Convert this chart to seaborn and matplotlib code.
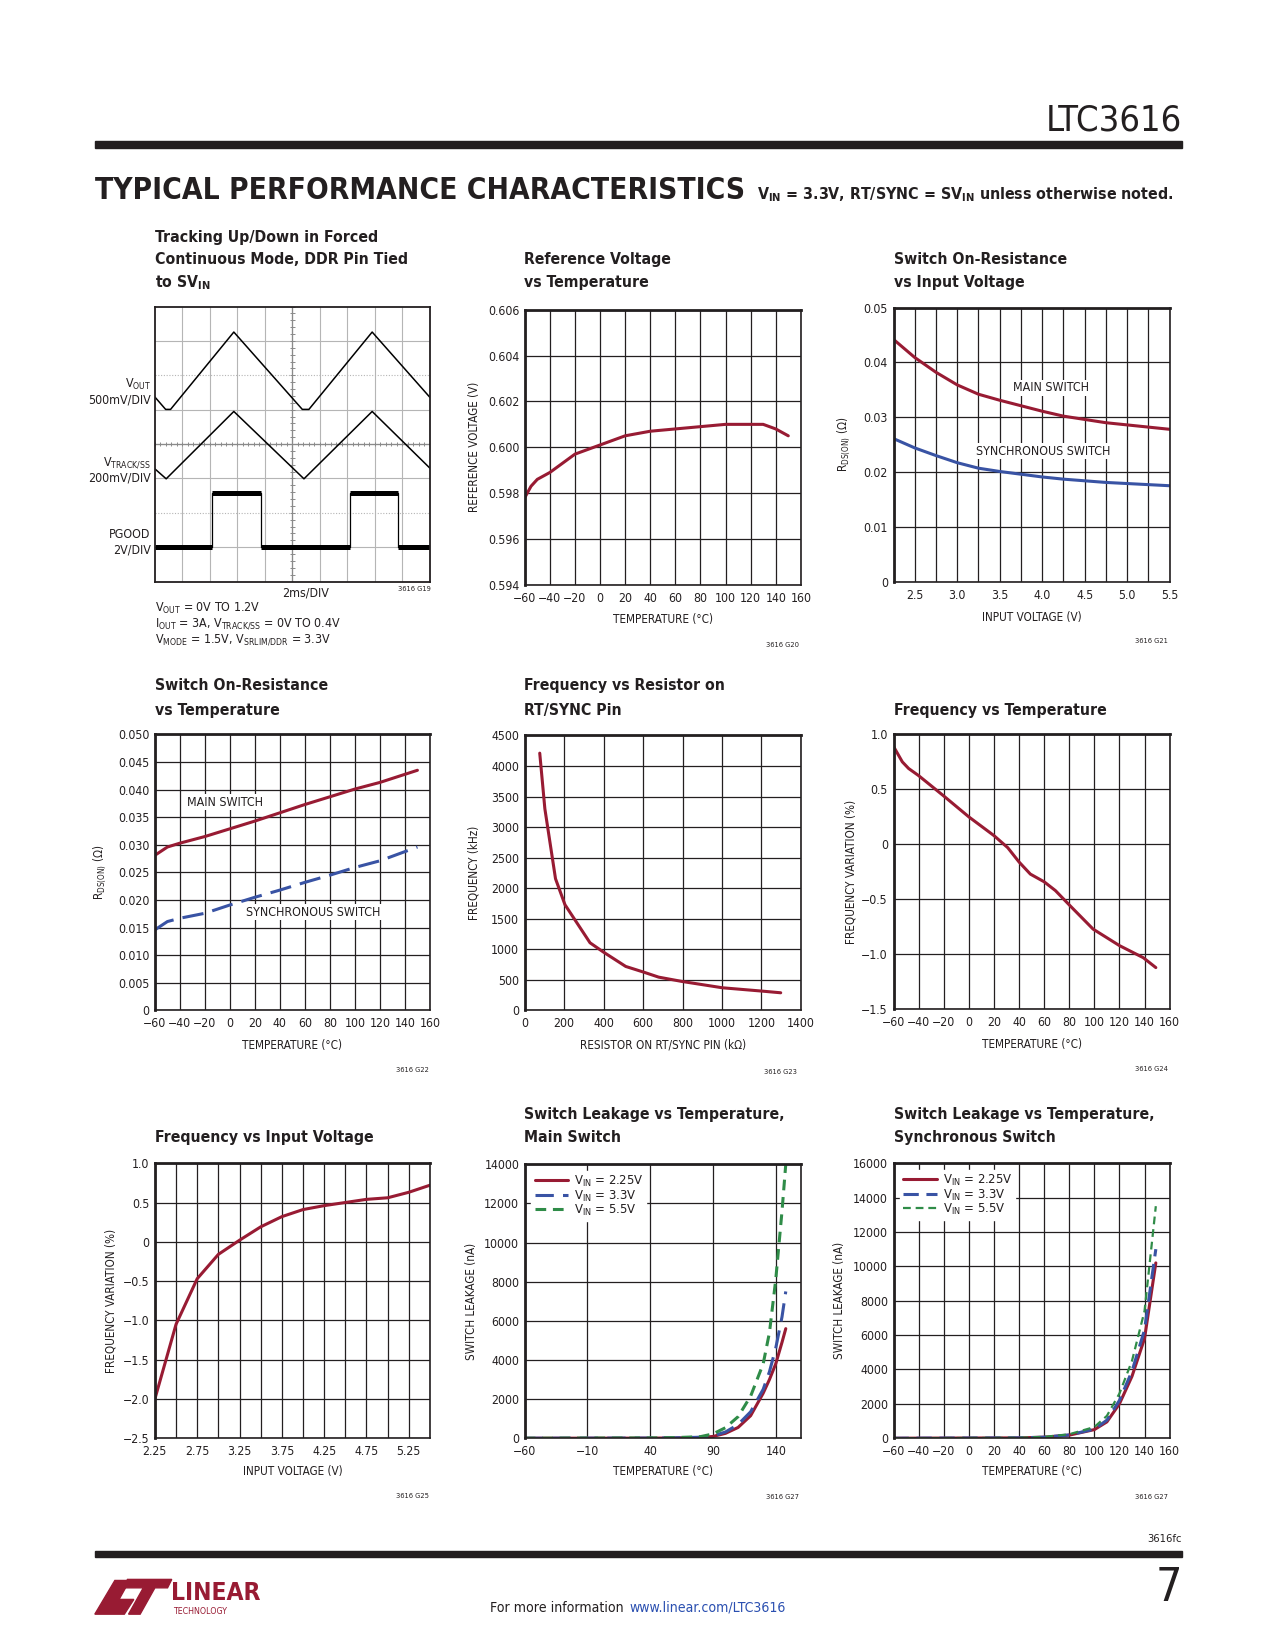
import numpy as np
import pandas as pd
import matplotlib
matplotlib.use("Agg")
import matplotlib.pyplot as plt
import seaborn as sns
from matplotlib import font_manager as fm
from matplotlib.patches import Rectangle, Polygon

# ---- data ----
# scope shot, in divisions (10 x 8)
vout_t = [0, 0.39, 0.57, 2.87, 5.36, 5.6, 7.9, 10]
vout_v = [5.37, 5.01, 5.01, 7.26, 5.01, 5.01, 7.26, 5.36]
track_t = [0, 0.41, 2.87, 5.42, 7.9, 10]
track_v = [3.28, 2.99, 4.95, 2.99, 4.95, 3.30]
pgood_t = [0, 2.08, 2.08, 3.84, 3.84, 7.09, 7.09, 8.85, 8.85, 10]
pgood_v = [1.0, 1.0, 2.58, 2.58, 1.0, 1.0, 2.58, 2.58, 1.0, 1.0]

# reference voltage vs temperature
ref_temp = [-60, -55, -50, -40, -30, -20, -10, 0, 10, 20, 30, 40, 60, 80, 100, 120, 130, 140, 150]
ref_volt = [0.5978, 0.5983, 0.5986, 0.5989, 0.5993, 0.5997, 0.5999, 0.6001, 0.6003, 0.6005, 0.6006,
            0.6007, 0.6008, 0.6009, 0.6010, 0.6010, 0.6010, 0.6008, 0.6005]

# switch on-resistance vs input voltage
rvin_v = [2.25, 2.5, 2.75, 3.0, 3.25, 3.5, 3.75, 4.0, 4.25, 4.5, 4.75, 5.0, 5.25, 5.5]
rvin_main = [0.0442, 0.0409, 0.0382, 0.0359, 0.0342, 0.0331, 0.0321, 0.0311, 0.0302, 0.0296,
             0.0290, 0.0286, 0.0282, 0.0278]
rvin_sync = [0.0261, 0.0244, 0.0230, 0.0217, 0.0207, 0.0201, 0.0196, 0.0191, 0.0187, 0.0184,
             0.0181, 0.0179, 0.0177, 0.0175]

# switch on-resistance vs temperature
rt_temp = [-60, -50, -40, -20, 0, 20, 40, 60, 80, 100, 120, 150]
rt_main = [0.0281, 0.0296, 0.0303, 0.0315, 0.0329, 0.0343, 0.0358, 0.0373, 0.0387, 0.0401, 0.0413, 0.0435]
rt_sync = [0.0146, 0.0161, 0.0167, 0.0176, 0.0191, 0.0205, 0.0218, 0.0232, 0.0245, 0.0259, 0.0271, 0.0296]

# frequency vs resistor
fr_res = [76, 102, 156, 204, 331, 399, 512, 603, 679, 798, 1002, 1205, 1298]
fr_khz = [4210, 3300, 2155, 1730, 1107, 955, 720, 627, 545, 474, 371, 316, 289]

# frequency vs temperature
ft_temp = [-60, -53, -48, -40, -20, 0, 20, 31, 40, 49, 60, 69, 80, 99, 120, 139, 149]
ft_pct = [0.89, 0.75, 0.69, 0.625, 0.44, 0.25, 0.08, -0.03, -0.16, -0.27, -0.34, -0.42, -0.55,
          -0.77, -0.92, -1.03, -1.12]

# frequency vs input voltage
fv_vin = [2.25, 2.5, 2.75, 3.0, 3.25, 3.5, 3.75, 4.0, 4.25, 4.5, 4.75, 5.0, 5.25, 5.5]
fv_pct = [-2.0, -1.05, -0.47, -0.16, 0.02, 0.19, 0.32, 0.41, 0.46, 0.50, 0.54, 0.56, 0.63, 0.72]

# switch leakage, main switch
lm_temp = [-60, 40, 60, 80, 90, 100, 110, 120, 130, 135, 140, 145, 148]
lm_225 = [0, 5, 15, 40, 90, 250, 550, 1150, 2300, 3000, 3800, 4900, 5600]
lm_33 = [0, 8, 20, 50, 120, 320, 700, 1350, 2500, 3400, 4600, 6200, 7500]
lm_55 = [0, 15, 30, 80, 220, 540, 1100, 2150, 3800, 5400, 8100, 11600, 14000]

# switch leakage, synchronous switch
ls_temp = [-60, 40, 60, 80, 100, 110, 120, 130, 140, 149]
ls_225 = [0, 20, 60, 180, 500, 950, 2000, 3600, 5800, 10200]
ls_33 = [0, 20, 60, 190, 530, 1050, 2200, 3900, 6300, 11000]
ls_55 = [0, 25, 80, 230, 650, 1300, 2600, 4500, 7400, 13500]

leg_labels = ["V$_{IN}$ = 2.25V", "V$_{IN}$ = 3.3V", "V$_{IN}$ = 5.5V"]

# tick labels
temp_ticks = list(range(-60, 161, 20))
temp_labels = ["\u221260", "\u221240", "\u221220", "0", "20", "40", "60", "80", "100", "120", "140", "160"]
ref_ticks = [0.594, 0.596, 0.598, 0.600, 0.602, 0.604, 0.606]
ref_labels = ["0.594", "0.596", "0.598", "0.600", "0.602", "0.604", "0.606"]
rvin_xticks = [2.5, 3.0, 3.5, 4.0, 4.5, 5.0, 5.5]
rvin_xlabels = ["2.5", "3.0", "3.5", "4.0", "4.5", "5.0", "5.5"]
rvin_yticks = [0, 0.01, 0.02, 0.03, 0.04, 0.05]
rvin_ylabels = ["0", "0.01", "0.02", "0.03", "0.04", "0.05"]
rt_yticks = [0, 0.005, 0.010, 0.015, 0.020, 0.025, 0.030, 0.035, 0.040, 0.045, 0.050]
rt_ylabels = ["0", "0.005", "0.010", "0.015", "0.020", "0.025", "0.030", "0.035", "0.040", "0.045", "0.050"]
fr_xticks = [0, 200, 400, 600, 800, 1000, 1200, 1400]
fr_yticks = [0, 500, 1000, 1500, 2000, 2500, 3000, 3500, 4000, 4500]
ft_yticks = [-1.5, -1.0, -0.5, 0, 0.5, 1.0]
ft_ylabels = ["\u22121.5", "\u22121.0", "\u22120.5", "0", "0.5", "1.0"]
fv_xticks = [2.25, 2.75, 3.25, 3.75, 4.25, 4.75, 5.25]
fv_xlabels = ["2.25", "2.75", "3.25", "3.75", "4.25", "4.75", "5.25"]
fv_yticks = [-2.5, -2.0, -1.5, -1.0, -0.5, 0, 0.5, 1.0]
fv_ylabels = ["\u22122.5", "\u22122.0", "\u22121.5", "\u22121.0", "\u22120.5", "0", "0.5", "1.0"]
lm_xticks = [-60, -10, 40, 90, 140]
lm_xlabels = ["\u221260", "\u221210", "40", "90", "140"]
lm_yticks = list(range(0, 14001, 2000))
ls_yticks = list(range(0, 16001, 2000))

RED = "#981b33"
BLUE = "#3953a4"
GREEN = "#2f8c48"
INK = "#231f20"

# ---- style / fonts ----
sns.set_theme(style="white")
names = {f.name for f in fm.fontManager.ttflist}
stretch = "normal"
if "Liberation Sans Narrow" in names:
    BASE = "Liberation Sans Narrow"
    K = 1.0
elif any(f.name == "DejaVu Sans" and f.stretch == "condensed" for f in fm.fontManager.ttflist):
    BASE = "DejaVu Sans"
    stretch = "condensed"
    K = 0.84
else:
    BASE = "Liberation Sans"
    K = 0.86
plt.rcParams["font.family"] = [BASE, "DejaVu Sans"]
plt.rcParams["font.stretch"] = stretch
plt.rcParams["mathtext.default"] = "regular"
plt.rcParams["text.color"] = INK
plt.rcParams["axes.labelcolor"] = INK
plt.rcParams["xtick.color"] = INK
plt.rcParams["ytick.color"] = INK

TICK = 10.5 * K
LAB = 10 * K
TTL = 13.5 * K
HEAD = 24 * (0.82 if K < 1 else 1) * 1.09

fig = plt.figure(figsize=(12.75, 16.5), dpi=100)
W0, H0 = 1210.0, 1566.0


def fx(x):
    return x / W0


def fy(y):
    return 1 - y / H0


def panel(x0, y0, x1, y1):
    return fig.add_axes([fx(x0), fy(y1), fx(x1) - fx(x0), fy(y0) - fy(y1)])


def ftext(x, y, s, **kw):
    kw.setdefault("va", "center")
    fig.text(fx(x), fy(y), s, **kw)


def style(ax, xlim, ylim, xgrid, ygrid, xt, xl, yt, yl):
    ax.set_xlim(*xlim)
    ax.set_ylim(*ylim)
    ax.set_xticks(xt)
    ax.set_xticklabels(xl)
    ax.set_yticks(yt)
    ax.set_yticklabels(yl)
    ax.grid(False)
    for g in xgrid:
        ax.axvline(g, color=INK, lw=0.9, zorder=0.5)
    for g in ygrid:
        ax.axhline(g, color=INK, lw=0.9, zorder=0.5)
    ax.tick_params(which="both", length=0, labelsize=TICK)
    ax.tick_params(axis="x", pad=5)
    ax.tick_params(axis="y", pad=4)
    for s in ax.spines.values():
        s.set_color(INK)
        s.set_linewidth(1.2)
        s.set_zorder(3)
    ax.spines["top"].set_linewidth(2.0)
    ax.spines["left"].set_linewidth(2.0)
    ax.set_xlabel("")
    ax.set_ylabel("")
    return ax


def labels(box, xlabel, xly, ylabel, ylx):
    x0, y0, x1, y1 = box
    ftext((x0 + x1) / 2, xly, xlabel, ha="center", fontsize=LAB)
    ftext(ylx, (y0 + y1) / 2, ylabel, ha="center", fontsize=LAB, rotation=90)


def code(x, y, s):
    ftext(x, y, s, ha="center", fontsize=6 * (0.9 if K < 1 else 1))


def title(x, ys, lines):
    for y, s in zip(ys, lines):
        ftext(x, y, s, ha="left", fontsize=TTL, fontweight="bold")


def line(ax, x, y, color, dashes=None, lw=2.2, label=None):
    df = pd.DataFrame({"x": x, "y": y})
    kw = {}
    if dashes is not None:
        kw["linestyle"] = (0, dashes)
    sns.lineplot(data=df, x="x", y="y", ax=ax, color=color, lw=lw, estimator=None, sort=False,
                 label=label, legend=False, zorder=2, **kw)


def legend(ax):
    lg = ax.legend(loc="upper left", bbox_to_anchor=(0.0, 1.0), fontsize=LAB + 1, handlelength=2.6,
                   labelspacing=-0.05, borderpad=0.25, handletextpad=0.4, frameon=True, fancybox=False)
    lg.get_frame().set_edgecolor("white")
    lg.get_frame().set_alpha(1)
    lg.set_zorder(2.5)


# ---- header ----
ftext(1122, 114, "LTC3616", ha="right", fontsize=31 * K, fontweight="light")
fig.add_artist(Rectangle((fx(90), fy(140)), fx(1122) - fx(90), fy(134) - fy(140), color=INK,
                         transform=fig.transFigure))
ftext(90, 181, "TYPICAL PERFORMANCE CHARACTERISTICS", ha="left", fontsize=HEAD, fontweight="heavy")
ftext(718, 185, "V$_{IN}$ = 3.3V, RT/SYNC = SV$_{IN}$ unless otherwise noted.", ha="left",
      fontsize=12.5 * K * 1.09, fontweight="bold")

# ---- panel 1: scope ----
b1 = (147, 291, 408, 552)
ax = panel(*b1)
ax.set_xlim(0, 10)
ax.set_ylim(0, 8)
ax.set_xticks([])
ax.set_yticks([])
for k in range(1, 10):
    ax.axvline(k, color="#b5b5b5", lw=0.8, zorder=0)
for k in range(1, 8):
    ax.axhline(k, color="#b5b5b5", lw=0.8, ls=(0, (1, 1.5)) if k in (2, 6) else "-", zorder=0)
ax.axvline(5, color="#8a8a8a", lw=0.9, zorder=0)
ax.axhline(4, color="#8a8a8a", lw=0.9, zorder=0)
tk = np.arange(0, 10.01, 0.2)
ax.vlines(tk, 4 - 0.06, 4 + 0.06, color="#8a8a8a", lw=0.7)
tk = np.arange(0, 8.01, 0.2)
ax.hlines(tk, 5 - 0.08, 5 + 0.08, color="#8a8a8a", lw=0.7)
line(ax, vout_t, vout_v, "black", lw=1.1)
line(ax, track_t, track_v, "black", lw=1.1)
line(ax, pgood_t, pgood_v, "black", lw=0.9)
for i in range(0, len(pgood_t) - 1, 2):
    ax.hlines(pgood_v[i], pgood_t[i], pgood_t[i + 1], color="black", lw=3.6)
ax.set_xlabel("")
ax.set_ylabel("")
for s in ax.spines.values():
    s.set_color(INK)
    s.set_linewidth(1.3)
title(147, [225, 246, 268], ["Tracking Up/Down in Forced", "Continuous Mode, DDR Pin Tied", "to SV$_{IN}$"])
ftext(143, 365, "V$_{OUT}$", ha="right", fontsize=LAB + 0.5)
ftext(143, 380, "500mV/DIV", ha="right", fontsize=LAB + 0.5)
ftext(143, 439, "V$_{TRACK/SS}$", ha="right", fontsize=LAB + 0.5)
ftext(143, 454, "200mV/DIV", ha="right", fontsize=LAB + 0.5)
ftext(143, 507, "PGOOD", ha="right", fontsize=LAB + 0.5)
ftext(143, 522, "2V/DIV", ha="right", fontsize=LAB + 0.5)
ftext(290, 563, "2ms/DIV", ha="center", fontsize=LAB + 0.5)
code(393, 559, "3616 G19")
ftext(147, 577, "V$_{OUT}$ = 0V TO 1.2V", ha="left", fontsize=LAB + 0.5)
ftext(147, 592, "I$_{OUT}$ = 3A, V$_{TRACK/SS}$ = 0V TO 0.4V", ha="left", fontsize=LAB + 0.5)
ftext(147, 607, "V$_{MODE}$ = 1.5V, V$_{SRLIM/DDR}$ = 3.3V", ha="left", fontsize=LAB + 0.5)

# ---- panel 2: reference voltage ----
b2 = (498, 294, 760, 555)
ax = panel(*b2)
line(ax, ref_temp, ref_volt, RED)
style(ax, (-60, 160), (0.594, 0.606), temp_ticks, ref_ticks, temp_ticks, temp_labels, ref_ticks, ref_labels)
title(497, [246, 268], ["Reference Voltage", "vs Temperature"])
labels(b2, "TEMPERATURE (\u00b0C)", 588, "REFERENCE VOLTAGE (V)", 450)
code(743, 612, "3616 G20")

# ---- panel 3: Rds(on) vs Vin ----
b3 = (848, 292, 1110, 552)
ax = panel(*b3)
line(ax, rvin_v, rvin_main, RED)
line(ax, rvin_v, rvin_sync, BLUE)
style(ax, (2.25, 5.5), (0, 0.05), np.arange(2.25, 5.51, 0.25), rvin_yticks, rvin_xticks, rvin_xlabels,
      rvin_yticks, rvin_ylabels)
ax.text(4.10, 0.0354, "MAIN SWITCH", ha="center", va="center", fontsize=LAB + 0.5, zorder=1.5,
        bbox=dict(fc="white", ec="none", pad=1))
ax.text(4.01, 0.0238, "SYNCHRONOUS SWITCH", ha="center", va="center", fontsize=LAB + 0.5, zorder=1.5,
        bbox=dict(fc="white", ec="none", pad=1))
title(848, [246, 268], ["Switch On-Resistance", "vs Input Voltage"])
labels(b3, "INPUT VOLTAGE (V)", 586, "R$_{DS(ON)}$ (\u03a9)", 801)
code(1093, 608, "3616 G21")

# ---- panel 4: Rds(on) vs temperature ----
b4 = (147, 697, 408, 959)
ax = panel(*b4)
line(ax, rt_temp, rt_main, RED)
line(ax, rt_temp, rt_sync, BLUE, dashes=(7, 3))
style(ax, (-60, 160), (0, 0.05), temp_ticks, rt_yticks, temp_ticks, temp_labels, rt_yticks, rt_ylabels)
ax.text(-34, 0.0377, "MAIN SWITCH", ha="left", va="center", fontsize=LAB + 0.5, zorder=1.5,
        bbox=dict(fc="white", ec="none", pad=1))
ax.text(12.8, 0.0178, "SYNCHRONOUS SWITCH", ha="left", va="center", fontsize=LAB + 0.5, zorder=1.5,
        bbox=dict(fc="white", ec="none", pad=1))
title(147, [651, 674], ["Switch On-Resistance", "vs Temperature"])
labels(b4, "TEMPERATURE (\u00b0C)", 992, "R$_{DS(ON)}$ (\u03a9)", 95)
code(391, 1016, "3616 G22")

# ---- panel 5: frequency vs resistor ----
b5 = (498, 698, 760, 959)
ax = panel(*b5)
line(ax, fr_res, fr_khz, RED)
style(ax, (0, 1400), (0, 4500), fr_xticks, fr_yticks, fr_xticks, [str(v) for v in fr_xticks],
      fr_yticks, [str(v) for v in fr_yticks])
title(497, [651, 674], ["Frequency vs Resistor on", "RT/SYNC Pin"])
labels(b5, "RESISTOR ON RT/SYNC PIN (k\u03a9)", 992, "FREQUENCY (kHz)", 450)
code(741, 1017, "3616 G23")

# ---- panel 6: frequency vs temperature ----
b6 = (848, 697, 1110, 958)
ax = panel(*b6)
line(ax, ft_temp, ft_pct, RED)
style(ax, (-60, 160), (-1.5, 1.0), temp_ticks, ft_yticks, temp_ticks, temp_labels, ft_yticks, ft_ylabels)
title(848, [674], ["Frequency vs Temperature"])
labels(b6, "TEMPERATURE (\u00b0C)", 991, "FREQUENCY VARIATION (%)", 808)
code(1093, 1015, "3616 G24")

# ---- panel 7: frequency vs input voltage ----
b7 = (147, 1104, 408, 1365)
ax = panel(*b7)
line(ax, fv_vin, fv_pct, RED)
style(ax, (2.25, 5.5), (-2.5, 1.0), np.arange(2.25, 5.51, 0.25), fv_yticks, fv_xticks, fv_xlabels,
      fv_yticks, fv_ylabels)
title(147, [1080], ["Frequency vs Input Voltage"])
labels(b7, "INPUT VOLTAGE (V)", 1397, "FREQUENCY VARIATION (%)", 105)
code(391, 1420, "3616 G25")

# ---- panel 8: leakage, main switch ----
b8 = (498, 1105, 760, 1365)
ax = panel(*b8)
line(ax, lm_temp, lm_225, RED, label=leg_labels[0])
line(ax, lm_temp, lm_33, BLUE, dashes=(6, 3), label=leg_labels[1])
line(ax, lm_temp, lm_55, GREEN, dashes=(3.5, 2.2), label=leg_labels[2])
style(ax, (-60, 160), (0, 14000), lm_xticks, lm_yticks, lm_xticks, lm_xlabels, lm_yticks,
      [str(v) for v in lm_yticks])
legend(ax)
title(497, [1058, 1080], ["Switch Leakage vs Temperature,", "Main Switch"])
labels(b8, "TEMPERATURE (\u00b0C)", 1397, "SWITCH LEAKAGE (nA)", 447)
code(743, 1421, "3616 G27")

# ---- panel 9: leakage, synchronous switch ----
b9 = (848, 1104, 1110, 1365)
ax = panel(*b9)
line(ax, ls_temp, ls_225, RED, label=leg_labels[0])
line(ax, ls_temp, ls_33, BLUE, dashes=(5, 2.5), label=leg_labels[1])
line(ax, ls_temp, ls_55, GREEN, dashes=(3.5, 2.2), lw=1.6, label=leg_labels[2])
style(ax, (-60, 160), (0, 16000), temp_ticks, ls_yticks, temp_ticks, temp_labels, ls_yticks,
      [str(v) for v in ls_yticks])
legend(ax)
title(848, [1058, 1080], ["Switch Leakage vs Temperature,", "Synchronous Switch"])
labels(b9, "TEMPERATURE (\u00b0C)", 1397, "SWITCH LEAKAGE (nA)", 797)
code(1093, 1421, "3616 G27")

# ---- footer ----
ftext(1122, 1461, "3616fc", ha="right", fontsize=9.5 * K)
fig.add_artist(Rectangle((fx(90), fy(1478)), fx(1122) - fx(90), fy(1472) - fy(1478), color=INK,
                         transform=fig.transFigure))
ftext(1122, 1508, "7", ha="right", fontsize=40 * K, fontweight="light")
ftext(596, 1526, "For more information ", ha="right", fontsize=12 * K)
ftext(597, 1526, "www.linear.com/LTC3616", ha="left", fontsize=12 * K, color="#2a4fb0")
logo_a = [(90, 1532), (118, 1532), (127, 1518), (113, 1518), (123, 1500), (109, 1500)]
logo_b = [(121, 1499), (163, 1499), (159, 1507), (147, 1507), (133, 1532), (122, 1532), (136, 1507), (117, 1507)]
for pts in (logo_a, logo_b):
    fig.add_artist(Polygon([(fx(x), fy(y)) for x, y in pts], closed=True, color=RED,
                           transform=fig.transFigure))
ftext(162, 1512, "LINEAR", ha="left", fontsize=21 * K, fontweight="bold", color=RED)
ftext(164, 1529, "TECHNOLOGY", ha="left", fontsize=7.5 * K, color=RED)

fig.savefig("out.png", dpi=100)
